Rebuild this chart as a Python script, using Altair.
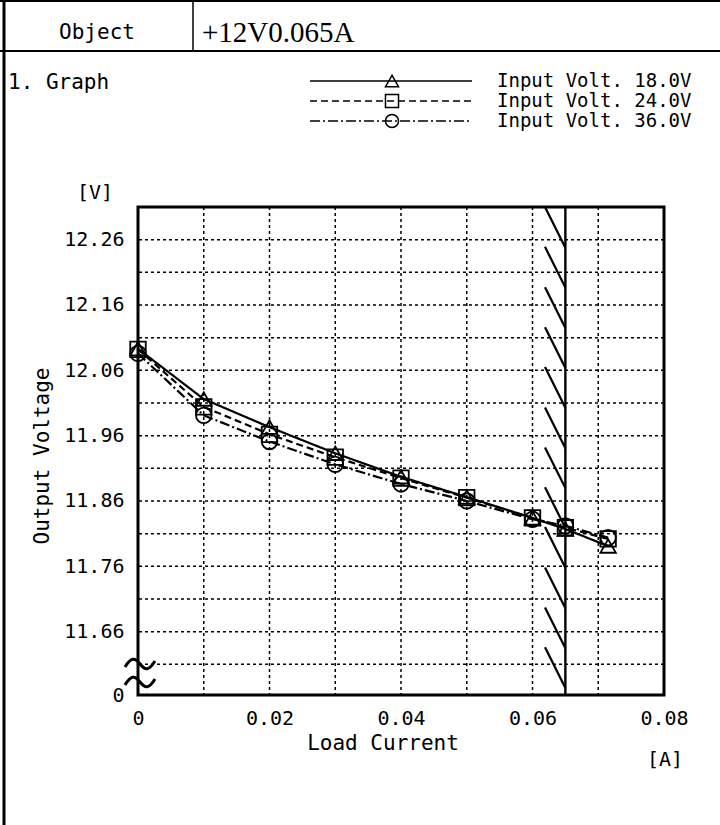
import altair as alt
import pandas as pd

# ---------------- data ----------------
current = [0, 0.01, 0.02, 0.03, 0.04, 0.05, 0.06, 0.065, 0.0715]
v_18 = [12.093, 12.016, 11.973, 11.933, 11.897, 11.866, 11.834, 11.817, 11.791]
v_24 = [12.092, 12.004, 11.962, 11.927, 11.895, 11.865, 11.834, 11.819, 11.802]
v_36 = [12.086, 11.991, 11.951, 11.916, 11.886, 11.860, 11.832, 11.822, 11.804]
series_names = ["Input Volt. 18.0V", "Input Volt. 24.0V", "Input Volt. 36.0V"]
series_shapes = ["triangle-up", "square", "circle"]
series_dash = [[1, 0], [7, 4], [10, 3, 2, 3]]

x_ticks = [0, 0.02, 0.04, 0.06, 0.08]
y_ticks = [11.563, 11.66, 11.76, 11.86, 11.96, 12.06, 12.16, 12.26]
x_grid = [0.01, 0.02, 0.03, 0.04, 0.05, 0.06, 0.07]
y_grid = [11.61, 11.66, 11.71, 11.76, 11.81, 11.86, 11.91, 11.96,
          12.01, 12.06, 12.11, 12.16, 12.21, 12.26]
rated_current = 0.065
hatch_tops = [12.31, 12.249, 12.187, 12.126, 12.065, 12.003, 11.942,
              11.881, 11.820, 11.758, 11.697, 11.636]
hatch_step = 0.0623
hatch_left = 0.0619

header_left = "Object"
header_right = "+12V0.065A"
section_title = "1. Graph"
x_title = "Load Current"
y_title = "Output Voltage"
x_unit = "[A]"
y_unit = "[V]"

# ---------------- layout ----------------
W, H = 526, 488
PAD_L, PAD_T = 138, 207
MONO = "DejaVu Sans Mono"
X_DOM = [0, 0.08]
Y_DOM = [11.563, 12.31]
WAVE = "M -1 0.2 C -0.6 -0.45 -0.35 -0.45 0 0 C 0.35 0.45 0.6 0.45 1 -0.2"

xaxis = alt.Axis(values=x_ticks, labelExpr="datum.value == 0 ? '0' : format(datum.value, '.2f')",
                 grid=False, ticks=False, domain=False, title=None, labelFont=MONO,
                 labelFontSize=20, labelColor="black", labelPadding=13, labelFlush=False,
                 labelOverlap=False)
yaxis = alt.Axis(values=y_ticks, labelExpr="datum.value < 11.6 ? '0' : format(datum.value, '.2f')",
                 grid=False, ticks=False, domain=False, title=None, labelFont=MONO,
                 labelFontSize=20, labelColor="black", labelPadding=14, labelBaseline="middle",
                 labelOverlap=False)
xs = alt.Scale(domain=X_DOM, nice=False, zero=False)
ys = alt.Scale(domain=Y_DOM, nice=False, zero=False)


def X(f="x"):
    return alt.X(f"{f}:Q", scale=xs, axis=xaxis)


def Y(f="v"):
    return alt.Y(f"{f}:Q", scale=ys, axis=yaxis)


rows = []
for name, vals in zip(series_names, [v_18, v_24, v_36]):
    for i, (c, v) in enumerate(zip(current, vals)):
        rows.append({"series": name, "x": c, "v": v, "o": i})
df = pd.DataFrame(rows)

dash_scale = alt.Scale(domain=series_names, range=series_dash)
shape_scale = alt.Scale(domain=series_names, range=series_shapes)

vgrid = alt.Chart(pd.DataFrame({"x": x_grid})).mark_rule(
    color="black", strokeWidth=1.5, strokeDash=[3, 3]).encode(x=X())
hgrid = alt.Chart(pd.DataFrame({"v": y_grid})).mark_rule(
    color="black", strokeWidth=1.5, strokeDash=[3, 3]).encode(y=Y())
rated = alt.Chart(pd.DataFrame({"x": [rated_current]})).mark_rule(
    color="black", strokeWidth=2.4).encode(x=X())
hatch_df = pd.DataFrame({"x": [hatch_left] * len(hatch_tops), "x2": [rated_current] * len(hatch_tops),
                         "v": hatch_tops, "v2": [t - hatch_step for t in hatch_tops]})
hatch = alt.Chart(hatch_df).mark_rule(color="black", strokeWidth=2.2).encode(
    x=X(), x2="x2:Q", y=Y(), y2="v2:Q")

lines = alt.Chart(df).mark_line(color="black", strokeWidth=2.2).encode(
    x=X(), y=Y(), detail="series:N", order="o:Q",
    strokeDash=alt.StrokeDash("series:N", scale=dash_scale, legend=None))
points = alt.Chart(df).mark_point(filled=False, color="black", strokeWidth=1.8, size=240, opacity=1).encode(
    x=X(), y=Y(), shape=alt.Shape("series:N", scale=shape_scale, legend=None))

one = pd.DataFrame({"a": [0]})


def rule(x1, y1, x2, y2, w=2):
    return alt.Chart(one).mark_rule(color="black", strokeWidth=w).encode(
        x=alt.value(x1), y=alt.value(y1), x2=alt.value(x2), y2=alt.value(y2))


def text(t, x, y, size=21, font=MONO, align="left", angle=0, **extra):
    kw = dict(align=align, baseline="middle", font=font, fontSize=size, color="black")
    if angle:
        kw["angle"] = angle
    kw.update(extra)
    return alt.Chart(one).mark_text(**kw).encode(
        x=alt.value(x), y=alt.value(y), text=alt.value(t))


def wave(x, y):
    return alt.Chart(one).mark_point(shape=WAVE, filled=False, color="black", strokeWidth=3,
                                     size=900, opacity=1).encode(x=alt.value(x), y=alt.value(y))


decor = [
    rule(-134, -207, -134, 825 - PAD_T, 3),          # left frame
    rule(-138, -206, 720 - PAD_L, -206, 2),            # top line
    rule(-138, -156, 720 - PAD_L, -156, 2),            # header bottom
    rule(55, -207, 55, -156, 1.5),                     # header separator
    text(header_left, -41, -174, align="center"),
    text(header_right, 64, -174, size=29, font="Liberation Serif"),
    text(section_title, -130, -124),
    text(y_unit, -43, -14, size=20, align="center"),
    text(y_title, -95, 249, size=21, align="center", angle=270),
    text(x_title, 245, 537, size=21, align="center"),
    text(x_unit, 527, 553, size=20, align="center"),
    wave(2, 457),
    wave(2, 475),
]

legend_layers = []
for i, name in enumerate(series_names):
    ly = -126 + 20 * i
    legend_layers.append(alt.Chart(one).mark_rule(color="black", strokeWidth=1.5,
                                                  strokeDash=series_dash[i]).encode(
        x=alt.value(172), x2=alt.value(334), y=alt.value(ly), y2=alt.value(ly)))
    legend_layers.append(alt.Chart(one).mark_point(filled=False, color="black", strokeWidth=1.5,
                                                   size=170, shape=series_shapes[i], opacity=1).encode(
        x=alt.value(254), y=alt.value(ly)))
    legend_layers.append(text(name, 359, ly, size=19))

chart = alt.layer(
    vgrid, hgrid, hatch, rated, lines, points, *decor, *legend_layers
).properties(
    width=W, height=H,
    padding={"left": PAD_L, "top": PAD_T, "right": 720 - PAD_L - W, "bottom": 825 - PAD_T - H},
    autosize="none",
    background="white",
).configure_view(stroke="black", strokeWidth=3)

chart.save("out.html", embed_options={"renderer": "svg", "actions": False})
